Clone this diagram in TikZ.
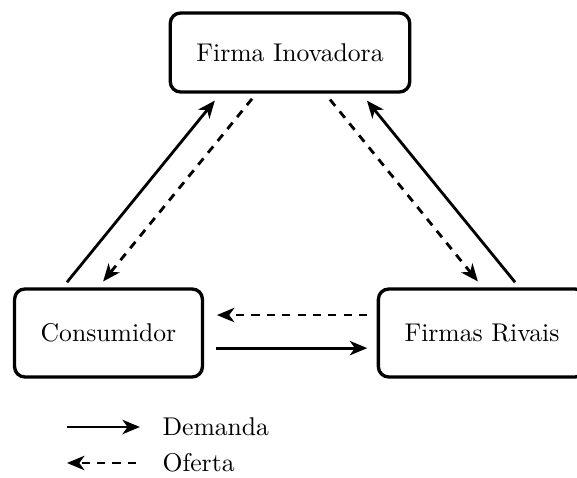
\documentclass[tikz,border=0pt]{standalone}
\usetikzlibrary{arrows.meta,positioning}
\begin{document}
\begin{tikzpicture}[x=0.39pt,y=-0.39pt,>={Stealth[length=6.8pt,width=5.6pt,inset=2pt]},
    agent/.style={rectangle,draw,rounded corners=4pt,line width=1.3pt,inner xsep=10.2pt,font=\normalsize},
    demanda/.style={->,line width=1.1pt},
    oferta/.style={->,line width=1.1pt,dash pattern=on 3.2pt off 2.8pt}]
    \path[use as bounding box,clip] (0,0) rectangle (577,478);

    \node [agent, minimum height=30.8pt](inov) at (290,52.5) {Firma Inovadora};
    \node [agent, minimum height=34.3pt](cons) at (108.5,333) {Consumidor};
    \node [agent, minimum height=34.3pt](riv) at (482,333) {Firmas Rivais};

    \draw [demanda] ([xshift=-16.2pt,yshift=2pt]cons.north) -- ([xshift=-29.3pt,yshift=-2.7pt]inov.south);
    \draw [oferta] ([xshift=-14.8pt,yshift=-2pt]inov.south) -- ([xshift=-2.1pt,yshift=2.3pt]cons.north);
    \draw [oferta] ([xshift=15.6pt,yshift=-2.3pt]inov.south) -- ([xshift=-1.6pt,yshift=2.3pt]riv.north);
    \draw [demanda] ([xshift=12.9pt,yshift=2pt]riv.north) -- ([xshift=30pt,yshift=-2.7pt]inov.south);
    \draw [oferta] ([xshift=-3.7pt,yshift=7pt]riv.west) -- ([xshift=5pt,yshift=7pt]cons.east);
    \draw [demanda] ([xshift=4.7pt,yshift=-5.9pt]cons.east) -- ([xshift=-3.7pt,yshift=-5.9pt]riv.west);

    \coordinate (d0) at (67,427);
    \coordinate (o0) at (67,463);
    \node (dem) [anchor=west] at (153.5,427) {Demanda};
    \node (ofe) [anchor=west] at (153.5,463) {Oferta};
    \draw [demanda] (d0) -- ([xshift=-5.3pt]dem.west);
    \draw [oferta] ([xshift=-6.8pt]ofe.west) -- (o0);
\end{tikzpicture}
\end{document}
